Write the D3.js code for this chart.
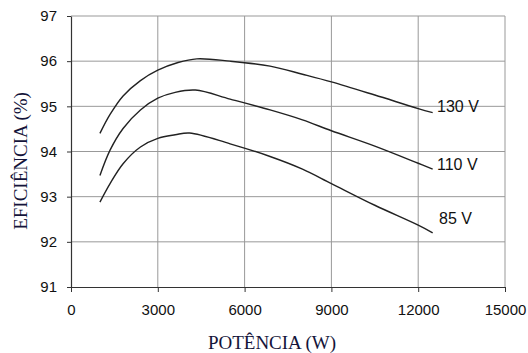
<!DOCTYPE html>
<html>
    <head>
        <meta charset="utf-8">
        <style>
            html, body {
                margin: 0px;
                padding: 0px;
                background-color: #fff;
            }

            svg text {
                fill: #111;
            }

            .axis text {
                font-family: "Liberation Sans", Arial, sans-serif;
                font-size: 15px;
            }

            .axis .domain {
                stroke: #333;
                stroke-width: 1.2;
            }

            .axis line {
                stroke: #333;
            }

            .grid line {
                stroke: #999;
                stroke-width: 1;
            }

            .title {
                font-family: "Liberation Serif", "Times New Roman", serif;
                font-size: 19px;
                fill: #14143a;
            }

            .curve {
                fill: none;
                stroke: #222;
                stroke-width: 1.4;
            }

            .label {
                font-family: "Liberation Sans", Arial, sans-serif;
                font-size: 16px;
            }
        </style>
        <script src="https://cdn.jsdelivr.net/npm/d3@7"></script>
    </head>
    <body>
        <div id="main"></div>

        <script>
            // power (W) and efficiency (%)
            var power130 = [1000, 1350, 1800, 2400, 3000, 3700, 4350, 5500, 6880, 8000, 9000, 10500, 12000, 12500];
            var eff130   = [94.40, 94.82, 95.23, 95.57, 95.80, 95.97, 96.05, 96.00, 95.89, 95.71, 95.54, 95.25, 94.95, 94.86];

            var power110 = [1000, 1350, 1800, 2400, 3000, 3600, 4300, 5500, 6880, 8000, 9000, 10500, 12000, 12500];
            var eff110   = [93.47, 94.03, 94.51, 94.92, 95.18, 95.31, 95.36, 95.16, 94.92, 94.70, 94.46, 94.12, 93.74, 93.61];

            var power85 = [1000, 1350, 1800, 2400, 3000, 3600, 4100, 5500, 6880, 8000, 9000, 10500, 12000, 12500];
            var eff85   = [92.88, 93.29, 93.73, 94.10, 94.29, 94.37, 94.41, 94.17, 93.89, 93.61, 93.29, 92.81, 92.37, 92.20];

            var seriesNames = ["130 V", "110 V", "85 V"];
            var xTicks = [0, 3000, 6000, 9000, 12000, 15000];
            var yTicks = [91, 92, 93, 94, 95, 96, 97];

            var width = 528;
            var height = 353;
            var plotLeft = 71, plotRight = 505, plotTop = 16, plotBottom = 287;

            function main() {
                var svg = d3.select("#main")
                            .append("svg")
                            .attr("width", width)
                            .attr("height", height);

                var x = d3.scaleLinear().domain([0, 15000]).range([plotLeft, plotRight]);
                var y = d3.scaleLinear().domain([91, 97]).range([plotBottom, plotTop]);

                // grid
                var grid = svg.append("g").attr("class", "grid");
                grid.selectAll(".v")
                    .data(xTicks.slice(1))
                    .enter()
                    .append("line")
                    .attr("x1", function(d) { return x(d); })
                    .attr("x2", function(d) { return x(d); })
                    .attr("y1", plotTop)
                    .attr("y2", plotBottom);
                grid.selectAll(".h")
                    .data(yTicks.slice(1))
                    .enter()
                    .append("line")
                    .attr("x1", plotLeft)
                    .attr("x2", plotRight)
                    .attr("y1", function(d) { return y(d); })
                    .attr("y2", function(d) { return y(d); });

                svg.append("g")
                    .attr("class", "axis")
                    .attr("transform", "translate(0," + plotBottom + ")")
                    .call(d3.axisBottom(x).tickValues(xTicks).tickFormat(d3.format("d"))
                            .tickSize(5).tickSizeOuter(0).tickPadding(12))
                    .selectAll("text").attr("fill", "#111");

                svg.append("g")
                    .attr("class", "axis")
                    .attr("transform", "translate(" + plotLeft + ",0)")
                    .call(d3.axisLeft(y).tickValues(yTicks).tickFormat(d3.format("d"))
                            .tickSize(4).tickSizeOuter(0).tickPadding(10))
                    .selectAll("text").attr("fill", "#111");

                var line = d3.line()
                    .x(function(d) { return x(d[0]); })
                    .y(function(d) { return y(d[1]); })
                    .curve(d3.curveCatmullRom.alpha(0.5));

                var series = [
                    d3.zip(power130, eff130),
                    d3.zip(power110, eff110),
                    d3.zip(power85, eff85)
                ];

                svg.selectAll(".curve")
                    .data(series)
                    .enter()
                    .append("path")
                    .attr("class", "curve")
                    .attr("d", line);

                var labelPos = [[12650, 95.0], [12650, 93.72], [12720, 92.52]];
                svg.selectAll(".label")
                    .data(seriesNames)
                    .enter()
                    .append("text")
                    .attr("class", "label")
                    .attr("x", function(d, i) { return x(labelPos[i][0]); })
                    .attr("y", function(d, i) { return y(labelPos[i][1]); })
                    .attr("dy", "0.35em")
                    .text(function(d) { return d; });

                svg.append("text")
                    .attr("class", "title")
                    .attr("x", 272)
                    .attr("y", 349)
                    .style("text-anchor", "middle")
                    .text("POTÊNCIA (W)");

                svg.append("text")
                    .attr("class", "title")
                    .attr("transform", "translate(27,161) rotate(-90)")
                    .style("text-anchor", "middle")
                    .text("EFICIÊNCIA (%)");
            }

            main();
        </script>
    </body>
</html>
